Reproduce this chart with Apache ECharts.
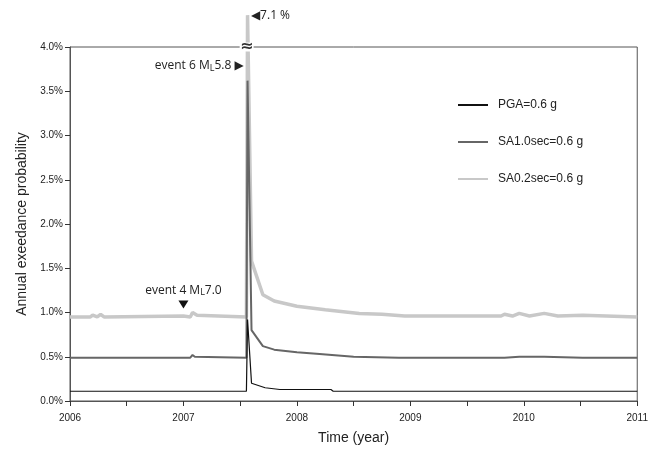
<!DOCTYPE html>
<html>
<head>
<meta charset="utf-8">
<script src="https://cdn.jsdelivr.net/npm/echarts@6/dist/echarts.min.js"></script>
<style>html,body{margin:0;padding:0;background:#fff;}#c{width:651px;height:456px;}</style>
</head>
<body>
<div id="c"></div>
<script>
// ---- data (decimal years, % annual exceedance probability) ----
const seriesNames = ['PGA=0.6 g', 'SA1.0sec=0.6 g', 'SA0.2sec=0.6 g'];
const pgaTimes = [2006.0, 2006.2, 2006.45, 2007.0, 2007.08, 2007.555, 2007.565, 2007.6, 2007.72, 2007.85, 2008.3, 2008.32, 2011.0];
const pgaValues = [0.11, 0.11, 0.11, 0.11, 0.11, 0.11, 0.92, 0.20, 0.15, 0.13, 0.13, 0.11, 0.11];
const sa10Times = [2006.0, 2006.2, 2006.27, 2006.45, 2007.0, 2007.06, 2007.08, 2007.1, 2007.555, 2007.565, 2007.6, 2007.7, 2007.8, 2008.0, 2008.2, 2008.5, 2008.9, 2009.83, 2009.96, 2010.18, 2010.52, 2011.0];
const sa10Values = [0.49, 0.49, 0.49, 0.49, 0.49, 0.49, 0.52, 0.50, 0.49, 3.62, 0.80, 0.62, 0.58, 0.55, 0.53, 0.50, 0.49, 0.49, 0.50, 0.50, 0.49, 0.49];
const sa02Times = [2006.0, 2006.18, 2006.2, 2006.24, 2006.27, 2006.3, 2007.0, 2007.06, 2007.08, 2007.12, 2007.555, 2007.565, 2007.6, 2007.7, 2007.8, 2008.0, 2008.25, 2008.55, 2008.75, 2008.95, 2009.8, 2009.83, 2009.9, 2009.96, 2010.05, 2010.18, 2010.3, 2010.52, 2011.0];
const sa02Values = [0.95, 0.95, 0.97, 0.95, 0.98, 0.95, 0.96, 0.95, 1.00, 0.97, 0.95, 4.36, 1.58, 1.20, 1.13, 1.07, 1.03, 0.99, 0.98, 0.96, 0.96, 0.98, 0.96, 0.99, 0.96, 0.99, 0.96, 0.97, 0.95];
const spikeLabel = '7.1 %';
const event6 = {time: 2007.535, level: 3.79, text: 'event 6 M{s|L}5.8 ▶'};
const event4 = {time: 2007.0, level: 1.09, text: 'event 4 M{s|L}7.0'};
const xTicks = {min: 2006, max: 2011, step: 0.5};
const yTicks = {min: 0, max: 4, step: 0.5};

function pairs(t, v) { return t.map((x, i) => [x, v[i]]); }

const chart = echarts.init(document.getElementById('c'), null, {renderer: 'canvas'});
const txt = '#222';
const FONT = '"Liberation Sans", Arial, Helvetica, sans-serif';
const AFONT = '"Open Sans", "DejaVu Sans", sans-serif';
const hidden = {color: 'rgba(0,0,0,0)'};
const sub = {s: {fontFamily: AFONT, fontSize: 9, color: '#222', padding: [5, 0, 0, 0]}};

chart.setOption({
  animation: false,
  backgroundColor: '#fff',
  grid: {left: 70, right: 12, top: 47, bottom: 55, show: true, borderColor: '#555', borderWidth: 1, backgroundColor: 'transparent'},
  legend: {
    orient: 'vertical', left: 452, top: 94, itemWidth: 30, itemHeight: 14, itemGap: 25,
    itemStyle: {opacity: 0},
    textStyle: {fontFamily: FONT, fontSize: 12, color: txt, padding: [0, 0, 0, 5]},
    data: [seriesNames[0], seriesNames[1], seriesNames[2]]
  },
  xAxis: {
    type: 'value', min: xTicks.min, max: xTicks.max, interval: xTicks.step,
    name: 'Time (year)', nameLocation: 'middle', nameGap: 30,
    nameTextStyle: {fontFamily: FONT, fontSize: 14, color: txt},
    axisLine: {lineStyle: {color: '#555', width: 1}},
    axisTick: {show: true, length: 5, lineStyle: {color: '#333'}},
    axisLabel: {fontFamily: FONT, fontSize: 10, color: txt, margin: 12,
      formatter: v => (Math.abs(v - Math.round(v)) < 1e-9 ? String(Math.round(v)) : '')},
    splitLine: {show: false}
  },
  yAxis: {
    type: 'value', min: yTicks.min, max: yTicks.max, interval: yTicks.step,
    name: 'Annual exeedance probability', nameLocation: 'middle', nameGap: 40, nameRotate: 90,
    nameTextStyle: {fontFamily: FONT, fontSize: 14, color: txt},
    axisLine: {show: true, lineStyle: {color: '#555', width: 1}},
    axisTick: {show: true, length: 5, lineStyle: {color: '#333'}},
    axisLabel: {fontFamily: FONT, fontSize: 10, color: txt, margin: 7, formatter: v => v.toFixed(1) + '%'},
    splitLine: {show: false}
  },
  series: [
    {
      name: seriesNames[2], type: 'line', data: pairs(sa02Times, sa02Values), clip: false,
      symbol: 'none', lineStyle: {color: '#c8c8c8', width: 3.5}, itemStyle: {color: '#c8c8c8'}, z: 2
    },
    {
      name: seriesNames[1], type: 'line', data: pairs(sa10Times, sa10Values), clip: false,
      symbol: 'none', lineStyle: {color: '#666', width: 2}, itemStyle: {color: '#666'}, z: 3
    },
    {
      name: seriesNames[0], type: 'line', data: pairs(pgaTimes, pgaValues), clip: false,
      symbol: 'none', lineStyle: {color: '#111', width: 1.2}, itemStyle: {color: '#111'}, z: 4,
      markPoint: {
        silent: true,
        data: [
          {coord: [2007.557, yTicks.max], symbol: 'rect', symbolSize: [14, 9], itemStyle: {color: '#fff'},
            label: {show: true, position: 'inside', formatter: '≈', fontFamily: '"DejaVu Sans", sans-serif', fontSize: 16, fontWeight: 'bold', color: '#333'}},
          {coord: [2007.59, yTicks.max], symbol: 'circle', symbolSize: 1, itemStyle: hidden,
            label: {show: true, position: 'right', distance: 0, offset: [0, -31], formatter: '◀' + spikeLabel, fontFamily: AFONT, fontSize: 12, color: '#222'}},
          {coord: [event6.time, event6.level], symbol: 'circle', symbolSize: 1, itemStyle: hidden,
            label: {show: true, position: 'left', distance: 0, formatter: event6.text, fontFamily: AFONT, fontSize: 12, color: '#222', rich: sub}},
          {coord: [event4.time, event4.level + 0.16], symbol: 'circle', symbolSize: 1, itemStyle: hidden,
            label: {show: true, position: 'inside', formatter: event4.text, fontFamily: AFONT, fontSize: 12, color: '#222', rich: sub}},
          {coord: [event4.time, event4.level], symbol: 'triangle', symbolRotate: 180, symbolSize: [10, 8], itemStyle: {color: '#111'},
            label: {show: false}}
        ]
      }
    }
  ]
});
</script>
</body>
</html>
